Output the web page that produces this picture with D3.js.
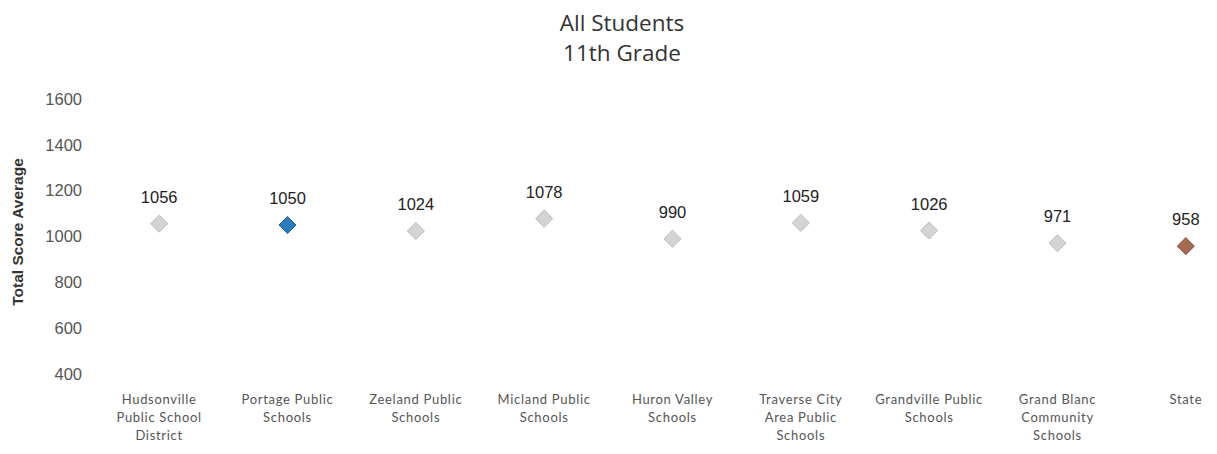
<!DOCTYPE html>
<html>
<head>
<meta charset="utf-8">
<script src="https://cdn.jsdelivr.net/npm/d3@7"></script>
<style>
  body { margin: 0; background: #fff; }
  svg { display: block; }
</style>
</head>
<body>
<div id="chart"></div>
<script>
"use strict";

const schools = [
  "Hudsonville Public School District",
  "Portage Public Schools",
  "Zeeland Public Schools",
  "Micland Public Schools",
  "Huron Valley Schools",
  "Traverse City Area Public Schools",
  "Grandville Public Schools",
  "Grand Blanc Community Schools",
  "State",
];
const schoolLabelLines = [
  ["Hudsonville", "Public School", "District"],
  ["Portage Public", "Schools"],
  ["Zeeland Public", "Schools"],
  ["Micland Public", "Schools"],
  ["Huron Valley", "Schools"],
  ["Traverse City", "Area Public", "Schools"],
  ["Grandville Public", "Schools"],
  ["Grand Blanc", "Community", "Schools"],
  ["State"],
];
const scoreAverages = [1056, 1050, 1024, 1078, 990, 1059, 1026, 971, 958];
const yTicks = [400, 600, 800, 1000, 1200, 1400, 1600];
const titleLines = ["All Students", "11th Grade"];

const width = 1217;
const height = 454;

const svg = d3.select("#chart").append("svg").attr("width", width).attr("height", height);

const x = d3.scaleBand().domain(schools).range([95, 1250]);
const y = d3.scaleLinear().domain([400, 1600]).range([374, 99]);

// title
svg.append("g")
  .selectAll("text")
  .data(titleLines)
  .join("text")
  .attr("x", 622)
  .attr("y", (d, i) => 31 + i * 30)
  .attr("text-anchor", "middle")
  .style("font-family", "'Open Sans', sans-serif")
  .style("font-size", "22.5px")
  .style("fill", "#333")
  .text((d) => d);

// y axis
const yAxis = svg.append("g")
  .attr("transform", "translate(82,0)")
  .call(d3.axisLeft(y).tickValues(yTicks).tickSize(0).tickPadding(0).tickFormat(d3.format("d")));
yAxis.select(".domain").remove();
yAxis.selectAll("text")
  .style("font-family", "'Liberation Sans', Arial, sans-serif")
  .style("font-size", "16.5px")
  .style("fill", "#555");

svg.append("text")
  .attr("transform", "translate(23,232) rotate(-90)")
  .attr("text-anchor", "middle")
  .style("font-family", "'Liberation Sans', Arial, sans-serif")
  .style("font-size", "15.5px")
  .style("font-weight", "bold")
  .style("fill", "#333")
  .text("Total Score Average");

// x labels
const xLabels = svg.append("g")
  .selectAll("text")
  .data(schools)
  .join("text")
  .attr("x", (d) => x(d) + x.bandwidth() / 2)
  .attr("y", 404)
  .attr("text-anchor", "middle")
  .style("font-family", "Lato, 'Open Sans', sans-serif")
  .style("font-size", "13px")
  .style("letter-spacing", "0.7px")
  .style("fill", "#555");
xLabels.each(function (d, i) {
  d3.select(this)
    .selectAll("tspan")
    .data(schoolLabelLines[i])
    .join("tspan")
    .attr("x", x(d) + x.bandwidth() / 2)
    .attr("dy", (t, j) => (j === 0 ? 0 : 18))
    .text((t) => t);
});

function fillFor(name) {
  if (name === "Portage Public Schools") return "#2b7bba";
  if (name === "State") return "#a56a52";
  return "#d4d4d4";
}
function strokeFor(name) {
  if (name === "Portage Public Schools") return "#1d5e94";
  if (name === "State") return "#85503d";
  return "#bcbcbc";
}

const points = schools.map((s, i) => ({ name: s, value: scoreAverages[i] }));
const diamond = d3.symbol().type(d3.symbolDiamond2).size(185);

svg.append("g")
  .selectAll("path")
  .data(points)
  .join("path")
  .attr("d", diamond)
  .attr("transform", (d) => `translate(${x(d.name) + x.bandwidth() / 2},${y(d.value)})`)
  .attr("fill", (d) => fillFor(d.name))
  .attr("stroke", (d) => strokeFor(d.name))
  .attr("stroke-width", 1);

svg.append("g")
  .selectAll("text")
  .data(points)
  .join("text")
  .attr("x", (d) => x(d.name) + x.bandwidth() / 2)
  .attr("y", (d) => y(d.value) - 21)
  .attr("text-anchor", "middle")
  .style("font-family", "'Liberation Sans', Arial, sans-serif")
  .style("font-size", "16.5px")
  .style("fill", "#222")
  .text((d) => d.value);
</script>
</body>
</html>
